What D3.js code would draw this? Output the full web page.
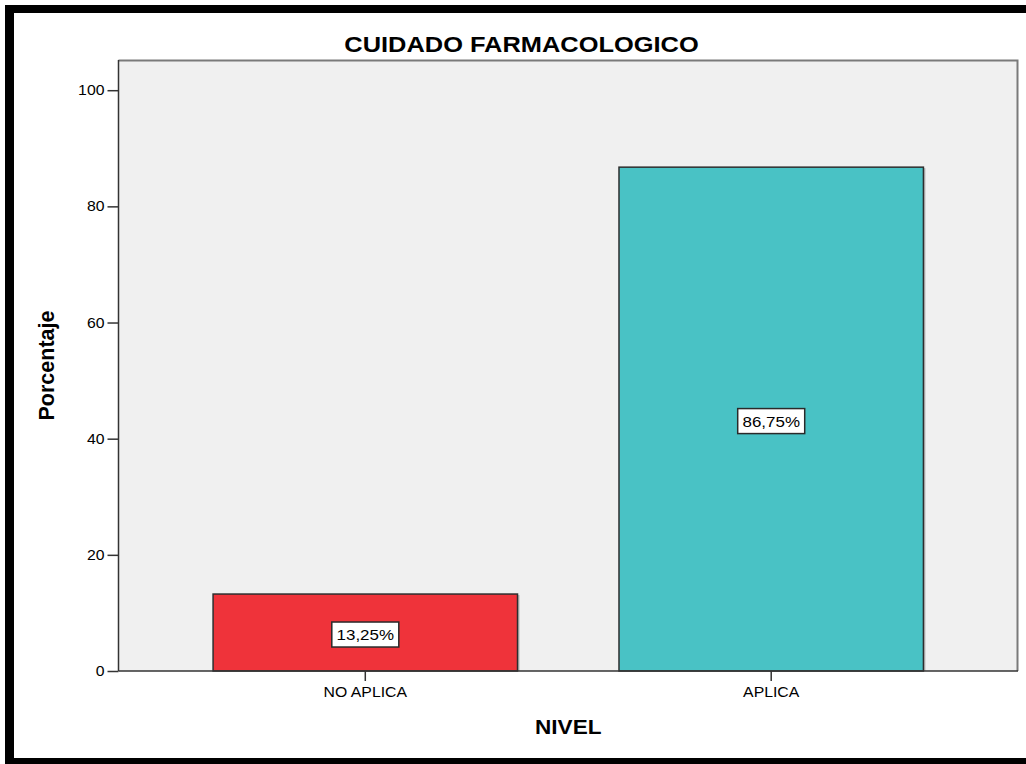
<!DOCTYPE html>
<html>
<head>
<meta charset="utf-8">
<script src="https://cdn.jsdelivr.net/npm/d3@7"></script>
<style>
  html, body { margin: 0; padding: 0; background: #fff; overflow: hidden; }
  svg { display: block; }
  text { font-family: "Liberation Sans", Arial, sans-serif; fill: #000; }
</style>
</head>
<body>
<script>
// Chart data
const categories = ["NO APLICA", "APLICA"];
const percentages = [13.25, 86.75];
const valueLabels = ["13,25%", "86,75%"];
const barColors = ["#ef333a", "#49c2c5"];
const yTicks = [0, 20, 40, 60, 80, 100];
const title = "CUIDADO FARMACOLOGICO";
const xTitle = "NIVEL";
const yTitle = "Porcentaje";

const W = 1026, H = 764;
const plot = { left: 118.5, right: 1018, top: 60, bottom: 671 };
const sx = 1.13; // horizontal text stretch

const svg = d3.select("body").append("svg")
  .attr("width", W).attr("height", H)
  .style("background", "#fff");

// outer frame (top, left, bottom)
svg.append("rect").attr("x", 5).attr("y", 5).attr("width", W - 5).attr("height", 8).attr("fill", "#000");
svg.append("rect").attr("x", 5).attr("y", 5).attr("width", 9).attr("height", H - 5).attr("fill", "#000");
svg.append("rect").attr("x", 5).attr("y", 758).attr("width", W - 5).attr("height", H - 758).attr("fill", "#000");

const y = d3.scaleLinear().domain([0, 105.2]).range([plot.bottom, plot.top]);
const x = d3.scaleBand().domain(categories)
  .range([plot.left, plot.right]).paddingInner(0.25).paddingOuter(0.233);

// plot background
svg.append("rect")
  .attr("x", plot.left).attr("y", plot.top)
  .attr("width", plot.right - plot.left).attr("height", plot.bottom - plot.top)
  .attr("fill", "#f0f0f0");
// top and right border (grey)
svg.append("path")
  .attr("d", `M${plot.left},${plot.top + 0.5}H${plot.right - 0.5}V${plot.bottom}`)
  .attr("fill", "none").attr("stroke", "#7a7a7a").attr("stroke-width", 2);

// helper for horizontally stretched text
function txt(g, tx, ty, s, opts = {}) {
  return g.append("text")
    .attr("transform", `translate(${tx},${ty}) scale(${sx},1)`)
    .attr("text-anchor", opts.anchor || "middle")
    .attr("font-size", opts.size || 14)
    .attr("font-weight", opts.bold ? "bold" : "normal")
    .text(s);
}

// bars
const data = categories.map((c, i) => ({ c, v: percentages[i], color: barColors[i], label: valueLabels[i] }));
const bars = svg.append("g");
// slight grey shadow on right edge
bars.selectAll("rect.shadow").data(data).join("rect")
  .attr("class", "shadow")
  .attr("x", d => x(d.c) + x.bandwidth())
  .attr("y", d => y(d.v) + 1)
  .attr("width", 2)
  .attr("height", d => y(0) - y(d.v) - 1)
  .attr("fill", "#b8b8b8");
bars.selectAll("rect.bar").data(data).join("rect")
  .attr("class", "bar")
  .attr("x", d => x(d.c))
  .attr("y", d => y(d.v))
  .attr("width", x.bandwidth())
  .attr("height", d => y(0) - y(d.v))
  .attr("fill", d => d.color)
  .attr("stroke", "#2e2e2e").attr("stroke-width", 1.5);

// axes
const yAxis = svg.append("g")
  .attr("transform", `translate(${plot.left},0)`)
  .call(d3.axisLeft(y).tickValues(yTicks).tickSize(11).tickFormat(() => ""));
yAxis.select(".domain").attr("stroke", "#333").attr("stroke-width", 1.5)
  .attr("d", `M0,${plot.top}V${plot.bottom}`);
yAxis.selectAll(".tick line").attr("stroke", "#333").attr("stroke-width", 1.5);
yTicks.forEach(t => {
  txt(svg, plot.left - 14, y(t) + 5, String(t), { anchor: "end", size: 14 });
});

const xAxis = svg.append("g")
  .attr("transform", `translate(0,${plot.bottom})`)
  .call(d3.axisBottom(x).tickSize(10).tickFormat(() => ""));
xAxis.select(".domain").attr("stroke", "#333").attr("stroke-width", 1.5)
  .attr("d", `M${plot.left},0H${plot.right}`);
xAxis.selectAll(".tick line").attr("stroke", "#333").attr("stroke-width", 1.5);
categories.forEach(c => {
  txt(svg, x(c) + x.bandwidth() / 2, 697, c, { size: 14 });
});

// value labels
const boxW = 67, boxH = 25;
data.forEach(d => {
  const cx = x(d.c) + x.bandwidth() / 2;
  const cy = y(d.v / 2) + 2;
  svg.append("rect")
    .attr("x", cx - boxW / 2).attr("y", cy - boxH / 2)
    .attr("width", boxW).attr("height", boxH)
    .attr("fill", "#fff").attr("stroke", "#2a2a2a").attr("stroke-width", 1.5);
  txt(svg, cx, cy + 5.5, d.label, { size: 15 });
});

// titles
txt(svg, 521.5, 52, title, { size: 22.5, bold: true });
txt(svg, (plot.left + plot.right) / 2, 734, xTitle, { size: 20, bold: true });
svg.append("text")
  .attr("transform", `translate(54,${(plot.top + plot.bottom) / 2}) rotate(-90)`)
  .attr("text-anchor", "middle")
  .attr("font-size", 21.5).attr("font-weight", "bold")
  .text(yTitle);
</script>
</body>
</html>
